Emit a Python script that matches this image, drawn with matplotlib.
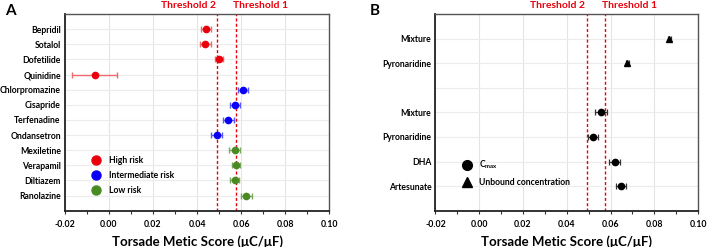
import matplotlib
matplotlib.use("Agg")
import matplotlib.pyplot as plt
from matplotlib.lines import Line2D
import numpy as np

plt.rcParams['font.family'] = ['Lato', 'DejaVu Sans']

# Panel A data
drugs_a = ["Bepridil", "Sotalol", "Dofetilide", "Quinidine", "Chlorpromazine",
           "Cisapride", "Terfenadine", "Ondansetron", "Mexiletine", "Verapamil",
           "Diltiazem", "Ranolazine"]
score_a = [0.0441, 0.0438, 0.0501, -0.0065, 0.0611, 0.0573, 0.0542, 0.0489,
           0.0571, 0.0576, 0.0571, 0.0624]
err_a = [0.0024, 0.0026, 0.0017, 0.0102, 0.0023, 0.0024, 0.0024, 0.0025,
         0.0024, 0.0018, 0.0022, 0.0025]
risk_a = ["High risk"] * 4 + ["Intermediate risk"] * 4 + ["Low risk"] * 4

# Panel B data
labels_b = ["Mixture", "Pyronaridine", "", "Mixture", "Pyronaridine", "DHA", "Artesunate"]
score_b = [0.0869, 0.0677, None, 0.0558, 0.0520, 0.0619, 0.0648]
err_b = [0.0007, 0.0008, None, 0.0027, 0.0025, 0.0024, 0.0024]
kind_b = ["Unbound concentration", "Unbound concentration", None, "Cmax", "Cmax", "Cmax", "Cmax"]

threshold1 = 0.0575
threshold2 = 0.0493
xticks = [-0.02, 0.00, 0.02, 0.04, 0.06, 0.08, 0.10]

risk_colors = {"High risk": "#e8000b", "Intermediate risk": "#0a00f5", "Low risk": "#4a8a22"}
err_colors = {"High risk": "#ef6a6a", "Intermediate risk": "#5a5af7", "Low risk": "#7aa860"}

fig = plt.figure(figsize=(7.08, 2.47), dpi=100)
axA = fig.add_axes([0.0918, 0.147, 0.3729, 0.7963])
axB = fig.add_axes([0.6151, 0.147, 0.3708, 0.7963])

def style(ax, n):
    ax.set_xlim(-0.02, 0.10)
    ax.set_ylim(n + 1, 0)
    ax.set_xticks(xticks)
    ax.set_xticklabels([f"{t:.2f}" for t in xticks], fontsize=6.3, fontweight='bold')
    ax.set_xticks(np.arange(-0.01, 0.10, 0.02), minor=True)
    ax.grid(True, axis='x', which='major', color='#e4e4e4', lw=0.8)
    ax.grid(True, axis='y', which='major', color='#ececec', lw=0.8)
    ax.set_axisbelow(True)
    ax.tick_params(axis='x', which='both', direction='out', length=2.5, width=0.8, pad=4, color='#333333')
    ax.tick_params(axis='y', length=0, pad=3)
    for s in ['left', 'bottom']:
        ax.spines[s].set_color('#222222')
        ax.spines[s].set_linewidth(1.3)
    for s in ['top', 'right']:
        ax.spines[s].set_color('#555555')
        ax.spines[s].set_linewidth(1.0)
    ax.set_xlabel("Torsade Metic Score (μC/μF)", fontsize=9.5, fontweight='bold', labelpad=5)
    for t in [threshold2, threshold1]:
        ax.axvline(t, color='#e8000b', lw=1.0, ls=(0, (2.2, 1.6)), zorder=1)
    ax.text(threshold2 - 0.0008, 1.02, "Threshold 2", transform=ax.get_xaxis_transform(),
            ha='right', va='bottom', color='#e8000b', fontsize=7.5, fontweight='bold')
    ax.text(threshold1 - 0.0012, 1.02, "Threshold 1", transform=ax.get_xaxis_transform(),
            ha='left', va='bottom', color='#e8000b', fontsize=7.5, fontweight='bold')

# Panel A
ya = np.arange(1, len(drugs_a) + 1)
style(axA, len(drugs_a))
for y, s, e, r in zip(ya, score_a, err_a, risk_a):
    axA.errorbar(s, y, xerr=e, fmt='o', color=risk_colors[r], ecolor=err_colors[r],
                 markersize=4.5, elinewidth=1.0, capsize=2.5, capthick=1.0, zorder=3)
axA.set_yticks(ya)
axA.set_yticklabels(drugs_a, fontsize=6.2, fontweight='bold')
handlesA = [Line2D([], [], marker='o', ls='', color=risk_colors[k], markersize=6.5, label=k)
            for k in ["High risk", "Intermediate risk", "Low risk"]]
axA.legend(handles=handlesA, loc='upper left', bbox_to_anchor=(0.08, 0.31), frameon=False,
           prop={'size': 6.2, 'weight': 'bold'}, handlelength=1.0, handletextpad=0.9,
           labelspacing=0.7, borderpad=0.2)
fig.text(0.007, 0.985, "A", fontsize=11, fontweight='bold', ha='left', va='top')

# Panel B
yb = np.arange(1, len(labels_b) + 1)
style(axB, len(labels_b))
for y, s, e, k in zip(yb, score_b, err_b, kind_b):
    if s is None:
        continue
    m = '^' if k == "Unbound concentration" else 'o'
    axB.errorbar(s, y, xerr=e, fmt=m, color='black', ecolor='#333333',
                 markersize=4.5, elinewidth=0.9, capsize=2.3, capthick=0.9, zorder=3)
axB.set_yticks(yb)
axB.set_yticklabels(labels_b, fontsize=6.2, fontweight='bold')
handlesB = [Line2D([], [], marker='o', ls='', color='black', markersize=7, label=r'C$_{\mathregular{max}}$'),
            Line2D([], [], marker='^', ls='', color='black', markersize=7, label='Unbound concentration')]
axB.legend(handles=handlesB, loc='upper left', bbox_to_anchor=(0.08, 0.295), frameon=False,
           prop={'size': 6.2, 'weight': 'bold'}, handlelength=1.0, handletextpad=0.9,
           labelspacing=0.75, borderpad=0.2)
fig.text(0.522, 0.985, "B", fontsize=11, fontweight='bold', ha='left', va='top')

fig.savefig("out.png", dpi=100)
